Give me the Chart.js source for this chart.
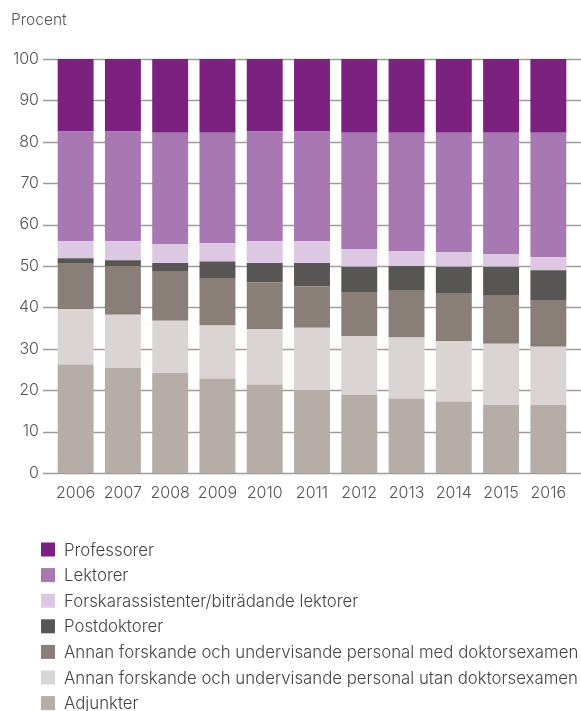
<!DOCTYPE html>
<html>
<head>
<meta charset="utf-8">
<script src="https://cdn.jsdelivr.net/npm/chart.js@4"></script>
<style>
    body { margin: 0; background: #fff; }
    canvas { display: block; }
</style>
</head>
<body>
<canvas id="chart" width="581" height="711"></canvas>
<script>
// Kategorier och värden (procent)
const years = ['2006', '2007', '2008', '2009', '2010', '2011', '2012', '2013', '2014', '2015', '2016'];
const yTicks = [0, 10, 20, 30, 40, 50, 60, 70, 80, 90, 100];

const adjunkter    = [26.2, 25.4, 24.2, 22.8, 21.4, 19.9, 18.9, 18.0, 17.3, 16.5, 16.5];
const annanUtan    = [13.4, 12.8, 12.6, 12.8, 13.4, 15.2, 14.2, 14.7, 14.6, 14.7, 14.0];
const annanMed     = [11.1, 11.8, 11.8, 11.3, 11.3, 10.0, 10.6, 11.5, 11.4, 11.8, 11.1];
const postdoktorer = [1.2, 1.4, 2.1, 4.2, 4.6, 5.6, 6.1, 5.8, 6.5, 6.8, 7.4];
const forskarass   = [4.1, 4.6, 4.6, 4.4, 5.3, 5.3, 4.3, 3.6, 3.6, 3.1, 3.1];
const lektorer     = [26.5, 26.5, 26.9, 26.7, 26.5, 26.5, 28.1, 28.6, 28.8, 29.3, 30.1];
const professorer  = [17.5, 17.5, 17.8, 17.8, 17.5, 17.5, 17.8, 17.8, 17.8, 17.8, 17.8];

const FONT = 'Inter, Lato, sans-serif';
const TEXT = '#555';

// Stapelordning nerifrån och upp
const series = [
    { label: 'Adjunkter', data: adjunkter, color: '#b6ada8' },
    { label: 'Annan forskande och undervisande personal utan doktorsexamen', data: annanUtan, color: '#dad5d4' },
    { label: 'Annan forskande och undervisande personal med doktorsexamen', data: annanMed, color: '#8a7e78' },
    { label: 'Postdoktorer', data: postdoktorer, color: '#575654' },
    { label: 'Forskarassistenter/biträdande lektorer', data: forskarass, color: '#dcc8e2' },
    { label: 'Lektorer', data: lektorer, color: '#a878b2' },
    { label: 'Professorer', data: professorer, color: '#7b2180' }
];

// Stödlinjer som sticker ut på båda sidor om stapelytan
const gridPlugin = {
    id: 'gridLines',
    beforeDatasetsDraw(chart) {
        const { ctx, chartArea, scales } = chart;
        ctx.save();
        ctx.strokeStyle = '#9c9c9c';
        ctx.lineWidth = 1.3;
        scales.y.ticks.forEach(t => {
            const y = Math.round(scales.y.getPixelForValue(t.value)) + 0.5;
            ctx.beginPath();
            ctx.moveTo(chartArea.left - 9, y);
            ctx.lineTo(chart.width, y);
            ctx.stroke();
        });
        ctx.restore();
    }
};

// Rubrik "Procent" och förklaring, en post per rad
const extrasPlugin = {
    id: 'extras',
    afterDraw(chart) {
        const { ctx } = chart;
        ctx.save();
        ctx.fillStyle = TEXT;
        ctx.font = '300 15.5px ' + FONT;
        ctx.textBaseline = 'middle';
        ctx.textAlign = 'left';
        ctx.fillText('Procent', 11, 20);

        const items = chart.data.datasets.slice().reverse();
        ctx.font = '300 16.8px ' + FONT;
        items.forEach((ds, i) => {
            const y = 549.5 + i * 25.6;
            ctx.fillStyle = ds.backgroundColor;
            ctx.fillRect(41, y - 7, 14, 14);
            ctx.fillStyle = '#444';
            ctx.fillText(ds.label, 64, y + 1);
        });
        ctx.restore();
    }
};

new Chart(document.getElementById('chart'), {
    type: 'bar',
    data: {
        labels: years,
        datasets: series.map(s => ({
            label: s.label,
            data: s.data,
            backgroundColor: s.color,
            borderWidth: 0,
            categoryPercentage: 1,
            barPercentage: 0.76
        }))
    },
    options: {
        responsive: false,
        animation: false,
        layout: { padding: { top: 59, right: 9, bottom: 198, left: 0 } },
        plugins: {
            legend: { display: false },
            tooltip: { enabled: false }
        },
        scales: {
            x: {
                stacked: true,
                grid: { display: false, drawTicks: false },
                border: { display: false },
                afterFit: scale => { scale.height = 40; },
                ticks: {
                    autoSkip: false,
                    maxRotation: 0,
                    padding: 11,
                    color: TEXT,
                    font: { family: FONT, size: 16, weight: '300' }
                }
            },
            y: {
                stacked: true,
                min: 0,
                max: 100,
                grid: { display: false, drawTicks: false },
                border: { display: false },
                afterBuildTicks: scale => { scale.ticks = yTicks.map(v => ({ value: v })); },
                afterFit: scale => { scale.width = 52; },
                ticks: {
                    padding: 13,
                    color: TEXT,
                    font: { family: FONT, size: 16, weight: '300' }
                }
            }
        }
    },
    plugins: [gridPlugin, extrasPlugin]
});
</script>
</body>
</html>
